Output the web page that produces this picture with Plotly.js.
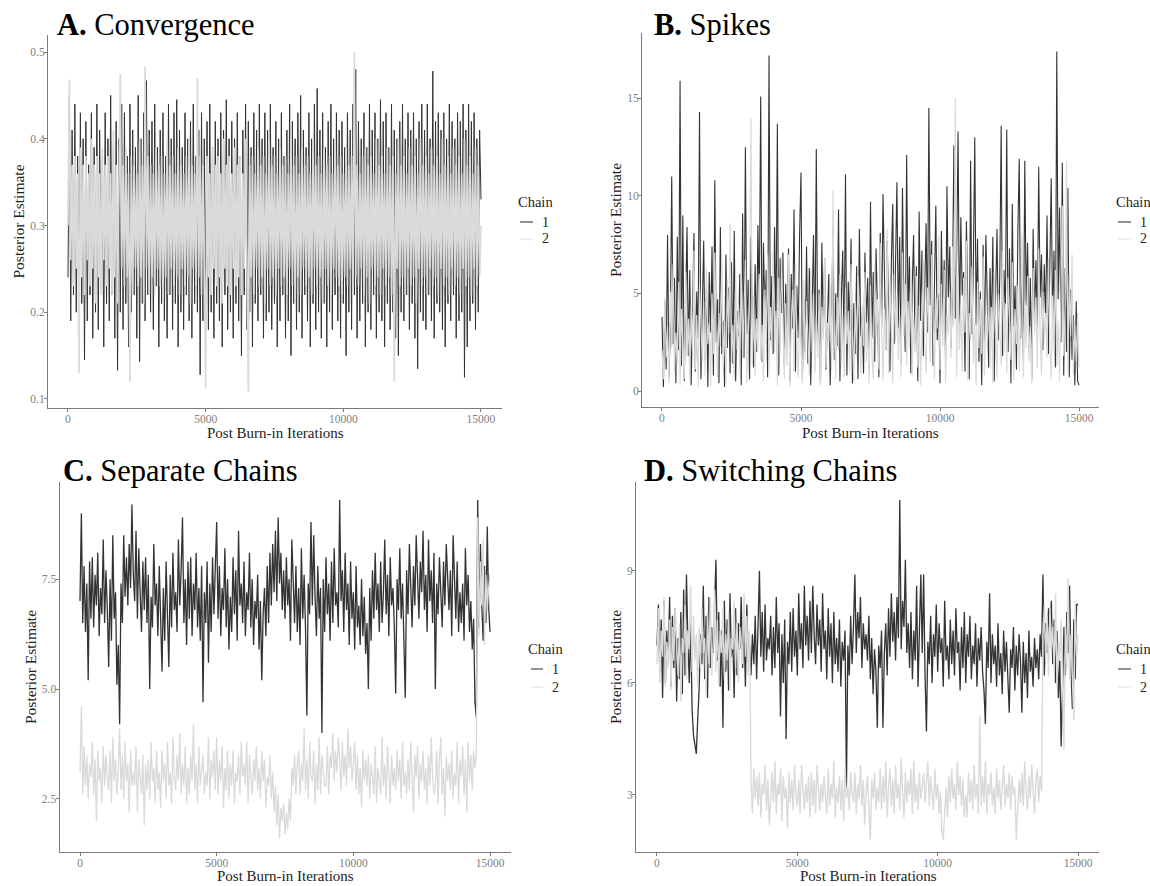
<!DOCTYPE html>
<html><head><meta charset="utf-8">
<script src="https://cdn.plot.ly/plotly-3.0.1.min.js"></script>
<style>html,body{margin:0;padding:0;background:#fff}#chart{width:1150px;height:886px}</style>
</head><body><div id="chart"></div>
<script>
// ---------- data (one value every iterStep iterations) ----------
const iterStep = 50;
const chainNames = ['1', '2'];
const legendTitle = 'Chain';
const xAxisTitle = 'Post Burn-in Iterations';
const yAxisTitle = 'Posterior Estimate';
const panelLetters = ['A.', 'B.', 'C.', 'D.'];
const panelNames = ['Convergence', 'Spikes', 'Separate Chains', 'Switching Chains'];
const xTickVals = [0, 5000, 10000, 15000];
const yTickValsA = [0.1, 0.2, 0.3, 0.4, 0.5];
const yTickValsB = [0, 5, 10, 15];
const yTickValsC = [2.5, 5.0, 7.5];
const yTickValsD = [3, 6, 9];

const convergenceChain1 = [
 0.24,0.45,0.19,0.41,0.22,0.44,0.20,0.38,0.18,0.43,
 0.21,0.40,0.145,0.42,0.19,0.37,0.22,0.43,0.17,0.39,
 0.20,0.44,0.18,0.41,0.23,0.38,0.16,0.43,0.21,0.40,
 0.19,0.45,0.22,0.39,0.17,0.42,0.133,0.40,0.20,0.44,
 0.18,0.43,0.21,0.38,0.16,0.44,0.20,0.41,0.22,0.39,
 0.17,0.45,0.143,0.40,0.21,0.43,0.19,0.467,0.22,0.41,
 0.20,0.42,0.18,0.44,0.23,0.39,0.16,0.41,0.21,0.43,
 0.19,0.38,0.17,0.44,0.22,0.40,0.18,0.43,0.21,0.445,
 0.16,0.41,0.20,0.39,0.18,0.43,0.22,0.40,0.19,0.42,
 0.17,0.44,0.21,0.38,0.20,0.41,0.128,0.43,0.19,0.40,
 0.22,0.42,0.18,0.44,0.20,0.39,0.17,0.42,0.21,0.40,
 0.19,0.43,0.16,0.41,0.22,0.445,0.18,0.40,0.20,0.42,
 0.17,0.40,0.21,0.43,0.19,0.38,0.15,0.41,0.22,0.44,
 0.18,0.42,0.20,0.39,0.16,0.43,0.21,0.41,0.19,0.44,
 0.22,0.40,0.17,0.43,0.19,0.41,0.20,0.44,0.18,0.39,
 0.21,0.42,0.16,0.40,0.19,0.43,0.22,0.38,0.17,0.41,
 0.19,0.44,0.15,0.42,0.21,0.40,0.18,0.43,0.20,0.45,
 0.17,0.41,0.22,0.39,0.19,0.43,0.16,0.40,0.21,0.44,
 0.18,0.458,0.20,0.41,0.17,0.43,0.21,0.39,0.16,0.42,
 0.20,0.44,0.18,0.40,0.22,0.43,0.19,0.41,0.17,0.42,
 0.21,0.39,0.15,0.43,0.20,0.41,0.18,0.44,0.22,0.48,
 0.17,0.42,0.19,0.40,0.21,0.43,0.16,0.39,0.20,0.44,
 0.18,0.41,0.22,0.43,0.17,0.40,0.20,0.445,0.19,0.42,
 0.16,0.43,0.21,0.39,0.18,0.44,0.20,0.41,0.17,0.40,
 0.15,0.42,0.20,0.44,0.19,0.40,0.22,0.43,0.18,0.41,
 0.21,0.43,0.17,0.40,0.135,0.42,0.20,0.44,0.19,0.41,
 0.18,0.44,0.22,0.40,0.19,0.478,0.17,0.42,0.21,0.43,
 0.20,0.41,0.18,0.43,0.16,0.40,0.21,0.44,0.19,0.42,
 0.22,0.40,0.17,0.43,0.19,0.42,0.20,0.44,0.125,0.41,
 0.16,0.44,0.19,0.42,0.21,0.43,0.18,0.40,0.20,0.41,
 0.33];
const convergenceChain2 = [
 0.30,0.468,0.26,0.37,0.23,0.38,0.25,0.36,0.13,0.39,
 0.24,0.37,0.22,0.38,0.26,0.36,0.23,0.40,0.25,0.37,
 0.21,0.38,0.24,0.36,0.22,0.39,0.26,0.37,0.23,0.38,
 0.25,0.36,0.22,0.41,0.24,0.37,0.21,0.38,0.475,0.25,
 0.37,0.23,0.39,0.24,0.36,0.12,0.38,0.22,0.37,0.25,
 0.36,0.23,0.40,0.24,0.37,0.21,0.483,0.25,0.38,0.22,
 0.37,0.24,0.36,0.22,0.39,0.25,0.37,0.23,0.38,0.21,
 0.36,0.24,0.40,0.22,0.37,0.25,0.38,0.23,0.36,0.24,
 0.39,0.22,0.37,0.25,0.36,0.23,0.38,0.24,0.40,0.21,
 0.37,0.25,0.36,0.23,0.47,0.24,0.38,0.22,0.37,0.25,
 0.113,0.38,0.24,0.36,0.22,0.39,0.25,0.37,0.23,0.38,
 0.24,0.36,0.21,0.40,0.25,0.37,0.23,0.38,0.22,0.36,
 0.25,0.39,0.23,0.37,0.24,0.38,0.22,0.36,0.25,0.40,
 0.23,0.108,0.37,0.24,0.38,0.22,0.36,0.25,0.39,0.23,
 0.37,0.24,0.38,0.21,0.36,0.25,0.40,0.23,0.37,0.24,
 0.38,0.22,0.36,0.25,0.39,0.23,0.37,0.24,0.38,0.22,
 0.36,0.25,0.40,0.23,0.37,0.21,0.38,0.24,0.36,0.22,
 0.39,0.25,0.37,0.23,0.38,0.24,0.36,0.22,0.40,0.25,
 0.37,0.23,0.38,0.24,0.36,0.21,0.39,0.25,0.37,0.23,
 0.38,0.22,0.36,0.25,0.40,0.24,0.37,0.23,0.38,0.22,
 0.36,0.24,0.39,0.23,0.37,0.25,0.38,0.22,0.50,0.24,
 0.37,0.23,0.36,0.25,0.38,0.22,0.39,0.24,0.37,0.21,
 0.38,0.25,0.36,0.23,0.40,0.24,0.37,0.22,0.38,0.25,
 0.36,0.23,0.39,0.24,0.37,0.22,0.38,0.12,0.36,0.25,
 0.40,0.23,0.37,0.24,0.38,0.22,0.36,0.25,0.39,0.23,
 0.37,0.24,0.38,0.21,0.36,0.25,0.40,0.23,0.37,0.24,
 0.38,0.22,0.36,0.25,0.39,0.23,0.37,0.24,0.38,0.22,
 0.36,0.25,0.40,0.23,0.37,0.24,0.38,0.22,0.36,0.25,
 0.39,0.23,0.37,0.24,0.38,0.22,0.36,0.25,0.40,0.23,
 0.37,0.24,0.38,0.22,0.36,0.25,0.39,0.23,0.37,0.24,
 0.30];

const spikesChain1 = [
 3.8,0.2,4.6,1.1,8.0,0.7,3.2,11.0,2.4,5.8,
 0.4,7.9,2.1,15.9,1.3,9.0,0.5,4.4,8.4,1.8,
 6.2,0.3,3.5,8.1,1.0,5.1,2.7,14.3,0.6,4.9,
 7.7,1.6,5.4,0.2,6.1,3.0,7.4,0.8,10.8,2.5,
 4.7,0.4,8.4,1.9,3.6,0.2,7.0,2.2,5.3,0.9,
 6.6,1.4,8.2,0.5,4.1,2.8,6.0,0.3,9.1,1.7,
 12.5,2.9,5.7,0.6,7.9,3.4,1.2,6.5,2.0,8.5,
 4.3,15.1,1.5,7.6,3.8,6.2,0.7,17.2,2.6,5.9,
 1.9,8.4,3.1,13.7,0.8,6.8,4.0,7.1,1.3,5.5,
 2.4,7.3,0.5,6.0,3.2,9.3,1.0,5.4,2.7,8.1,
 11.2,0.6,4.8,2.0,7.4,1.4,6.3,0.3,3.9,8.0,
 1.7,12.4,2.5,5.2,0.4,7.6,3.0,6.8,1.1,4.2,
 6.0,0.3,3.4,8.4,1.6,5.0,2.3,9.3,0.5,4.7,
 7.2,2.0,11.1,0.8,5.6,3.1,7.8,0.4,4.5,1.9,
 6.4,0.6,8.3,2.8,4.0,0.9,7.1,3.5,5.8,1.2,
 9.7,2.7,6.1,1.5,7.3,4.2,0.7,8.1,3.3,10.1,
 5.0,2.1,7.7,3.9,1.0,6.6,9.6,2.4,5.7,10.7,
 3.2,7.9,1.4,10.4,4.6,2.0,12.1,3.8,6.9,0.9,
 5.3,8.0,2.5,6.4,0.5,9.2,3.6,7.2,1.8,5.9,
 8.6,3.0,14.5,4.4,7.7,1.3,6.2,9.5,2.6,5.0,
 0.4,8.2,3.5,6.7,1.6,10.5,4.8,7.4,2.2,5.6,
 12.6,3.7,7.0,13.3,2.8,8.9,4.9,6.1,1.0,8.7,
 4.3,0.6,11.8,2.9,6.5,13.0,3.4,7.8,1.5,5.1,
 0.3,7.5,2.4,8.0,4.6,1.2,6.3,3.0,7.9,0.5,
 4.9,8.3,2.6,5.9,13.6,1.8,6.2,3.9,13.4,2.0,
 7.3,0.4,9.6,3.3,5.4,1.1,8.2,11.9,2.7,6.0,
 1.5,11.8,4.4,7.6,2.2,5.8,0.6,8.3,3.6,6.7,
 2.9,11.5,4.8,7.0,2.1,6.5,3.7,9.0,1.9,5.6,
 10.9,3.4,7.2,1.2,17.4,4.7,9.4,2.5,11.7,0.8,
 6.3,2.0,10.4,0.7,5.2,1.6,3.9,0.3,4.6,0.5,
 0.3];
const spikesChain2 = [
 2.1,0.6,4.8,1.7,3.3,0.4,5.1,2.2,6.5,0.9,
 3.0,1.4,5.6,0.3,4.2,2.5,0.6,6.1,1.8,3.7,
 0.5,4.4,2.0,7.2,1.1,3.9,0.2,5.5,2.8,1.5,
 4.6,0.8,6.3,2.4,3.5,0.3,5.0,1.9,7.1,2.6,
 0.7,4.0,2.3,6.8,1.2,3.6,0.4,5.7,2.9,8.6,
 1.5,3.4,0.6,5.9,2.1,4.5,0.9,6.6,1.7,3.8,
 6.7,0.4,2.8,5.3,14.0,1.3,4.9,0.8,3.7,2.0,
 6.0,1.6,3.4,0.5,5.2,2.6,7.0,1.0,4.3,2.2,
 7.2,2.0,4.1,0.3,5.8,1.9,6.9,2.7,0.6,4.5,
 1.3,7.0,0.2,3.6,5.2,1.0,6.6,2.4,0.7,4.0,
 2.2,0.4,5.7,1.6,4.6,3.1,0.8,6.2,2.0,5.0,
 0.9,3.8,1.7,5.0,0.3,4.3,2.6,6.8,1.2,3.5,
 2.5,5.4,1.1,10.3,3.0,0.6,4.8,2.1,6.0,1.4,
 3.9,0.7,5.3,2.4,4.1,1.0,6.5,2.8,0.5,4.6,
 1.8,5.9,3.2,0.9,4.4,2.3,6.1,1.5,3.6,0.4,
 5.4,1.9,0.6,6.4,2.8,4.7,1.1,7.6,3.0,0.5,
 4.2,2.1,8.3,0.9,5.6,3.3,0.4,6.0,2.5,4.9,
 1.6,3.9,0.7,7.1,2.8,5.5,1.3,4.6,2.2,6.3,
 0.8,3.7,2.0,5.9,1.2,4.4,0.3,3.1,6.7,2.4,
 0.9,5.3,3.6,1.5,7.0,2.7,0.6,4.8,3.2,8.0,
 1.1,5.5,2.3,6.2,0.4,3.9,2.9,5.1,1.7,7.4,
 3.3,15.0,0.7,6.0,2.1,4.4,1.0,5.8,3.0,7.7,
 0.5,4.0,2.6,6.4,1.4,3.5,0.3,5.6,2.2,4.7,
 1.9,6.9,0.8,3.8,2.5,5.2,1.1,4.3,0.4,6.1,
 2.7,0.6,5.0,3.4,1.3,7.2,2.0,4.5,0.9,5.8,
 3.1,1.6,6.6,0.5,4.2,2.4,5.4,1.0,3.7,8.1,
 0.7,4.6,2.2,5.9,1.5,3.3,0.4,6.3,2.9,4.8,
 1.2,7.3,3.0,0.8,5.1,2.6,4.0,1.7,6.8,2.3,
 0.6,4.9,2.0,6.2,1.3,3.6,0.5,5.5,9.5,1.8,
 4.4,11.8,1.0,6.0,2.8,7.0,0.9,3.4,1.5,4.0,
 1.2];

const separateChain1 = [
 7.0,9.0,6.5,7.8,6.3,7.4,5.2,7.9,6.6,8.0,
 6.4,7.6,6.9,8.1,6.2,7.3,6.7,8.4,6.5,7.7,
 6.8,5.5,7.5,6.1,8.5,6.6,7.2,5.1,6.0,4.2,
 7.4,6.5,8.5,7.1,8.0,6.9,8.3,7.3,9.2,7.6,
 7.0,8.6,6.6,8.2,7.2,6.3,7.9,6.8,8.0,6.5,
 7.6,5.0,7.1,6.4,8.3,6.9,7.4,6.2,7.8,6.6,
 5.4,7.3,6.1,7.9,6.7,5.5,7.6,6.4,8.1,6.8,
 7.2,6.3,8.4,6.9,7.7,8.9,6.5,7.5,6.0,7.9,
 6.6,8.0,6.2,7.4,6.8,8.1,6.4,7.3,6.1,7.8,
 4.7,7.2,6.5,7.9,5.6,7.4,6.3,8.0,6.7,7.6,
 8.8,6.6,7.8,6.2,7.3,6.8,8.2,6.4,7.5,5.9,
 7.1,6.3,8.0,6.7,7.7,6.1,8.6,6.9,7.4,6.5,
 7.9,6.2,7.2,6.8,8.1,6.4,7.5,6.0,7.0,6.6,
 7.6,5.9,7.0,5.2,6.7,7.3,6.2,7.8,6.5,8.1,
 6.9,8.3,7.2,8.6,7.0,8.9,7.4,8.1,6.8,7.7,
 6.6,8.0,6.9,7.5,6.1,8.4,7.1,6.5,7.8,6.3,
 7.3,6.0,8.2,6.6,7.6,6.4,4.4,7.4,6.7,8.8,
 6.9,8.5,7.1,6.2,7.8,6.6,7.3,4.0,7.5,6.3,
 8.0,6.7,7.4,6.1,7.9,6.5,8.2,6.9,7.2,6.4,
 9.3,7.0,7.7,6.3,8.1,6.8,7.4,6.0,7.9,6.6,
 7.2,5.9,7.8,6.4,6.9,6.0,7.5,6.2,7.1,5.8,
 6.5,5.0,7.3,6.1,7.7,6.6,8.1,6.8,7.4,6.3,
 7.9,6.5,7.2,8.4,6.7,7.6,6.2,8.0,6.9,7.3,
 6.4,4.9,7.5,6.8,8.2,6.6,7.4,6.1,4.8,7.7,
 6.7,8.3,7.1,6.4,7.8,6.9,8.5,7.3,6.6,7.9,
 7.2,8.6,6.8,7.6,6.3,8.4,7.0,7.7,6.5,8.1,
 5.0,7.4,6.7,8.0,7.1,6.4,7.9,6.9,8.3,7.5,
 6.8,7.7,6.2,8.5,7.3,6.6,7.9,6.3,7.2,6.5,
 7.4,6.1,8.2,6.9,7.6,6.3,7.0,5.9,6.6,4.7,
 4.35,9.3,6.4,8.3,6.9,6.1,7.8,6.5,8.7,6.9,
 6.3];
const separateChain2 = [
 3.1,4.6,2.6,3.7,2.8,3.5,2.5,3.3,3.0,3.8,
 2.6,3.4,2.0,3.6,2.9,3.2,2.4,3.7,2.8,3.5,
 3.0,2.7,3.6,2.4,3.9,2.9,3.4,2.6,3.2,4.1,
 2.7,3.5,2.5,3.8,2.9,3.3,2.2,3.6,2.8,3.1,
 2.8,3.7,2.2,3.4,3.0,2.6,3.5,1.9,3.3,2.7,
 3.4,2.5,3.8,2.9,3.2,2.4,3.6,2.7,3.1,2.3,
 3.6,2.9,3.3,2.5,3.8,2.8,3.1,2.4,3.9,3.0,
 2.7,3.5,2.9,4.0,2.6,3.3,2.8,3.7,2.4,3.2,
 2.6,3.5,2.9,4.2,2.7,3.3,2.4,3.7,2.8,3.2,
 3.5,2.6,3.1,2.8,3.9,2.5,3.4,3.0,3.6,2.7,
 3.9,2.6,3.4,2.9,3.7,2.3,3.2,2.7,3.6,2.5,
 3.3,2.8,3.6,2.4,3.1,2.9,3.5,2.6,3.8,3.0,
 3.3,2.8,3.8,2.4,3.5,3.0,2.6,3.4,2.9,3.7,
 2.7,3.2,2.5,3.6,2.9,3.4,2.3,3.0,2.8,3.5,
 2.5,3.1,2.2,2.8,1.9,2.6,1.6,2.3,2.0,2.4,
 1.7,2.2,1.8,2.5,2.0,3.2,2.8,3.5,2.6,3.3,
 3.6,2.6,3.3,2.9,4.1,2.7,3.4,2.5,3.8,3.0,
 2.9,3.6,2.4,3.3,2.7,3.9,2.6,3.5,3.1,2.8,
 2.8,3.7,2.6,3.5,3.2,4.0,2.9,3.6,3.1,3.9,
 3.4,2.7,3.8,3.0,3.5,2.8,4.1,3.2,3.7,2.9,
 3.3,3.8,2.7,3.5,2.6,3.2,2.3,3.6,2.9,3.4,
 2.8,3.5,2.5,3.3,3.0,2.6,3.7,2.4,3.2,2.9,
 2.6,3.9,2.8,3.3,2.5,3.7,3.0,2.4,3.5,2.8,
 3.2,2.7,3.6,2.9,3.4,2.5,3.8,2.8,3.1,2.6,
 3.4,2.7,3.8,2.9,2.2,3.5,3.0,3.7,2.5,3.3,
 2.9,3.6,2.7,3.2,2.4,3.5,2.8,3.9,3.0,2.6,
 2.8,3.6,2.4,3.4,3.9,2.6,3.2,2.1,3.5,2.9,
 3.3,2.7,3.6,2.5,3.1,2.8,3.8,2.4,3.4,3.0,
 3.7,2.6,3.4,2.2,3.8,2.9,3.5,2.7,3.6,3.2,
 3.5,8.9,6.2,7.9,6.9,8.4,6.0,7.6,6.8,7.3,
 7.6];

const switchingChain1 = [
 7.0,8.1,6.3,7.7,5.6,8.2,6.0,7.4,6.6,8.3,
 5.9,7.8,6.4,8.0,5.5,7.2,6.1,7.9,5.7,8.5,
 6.2,8.9,7.1,6.0,7.6,5.3,4.6,4.3,4.1,5.0,
 5.8,7.3,6.5,8.6,6.1,7.8,5.6,8.3,6.4,7.5,
 6.8,8.0,9.3,6.6,7.9,5.9,7.4,4.8,8.2,6.3,
 7.7,5.8,8.4,6.7,7.2,5.6,8.0,6.2,7.6,6.9,
 8.3,6.4,7.5,5.9,8.1,6.6,7.0,6.2,7.3,6.5,
 7.8,6.1,7.4,9.0,6.7,7.9,6.3,8.1,6.6,7.2,
 6.9,7.8,6.2,7.5,6.4,8.3,6.8,7.6,5.1,7.3,
 6.0,7.7,4.5,7.1,6.5,7.9,6.3,8.0,6.7,7.4,
 6.2,8.4,6.9,7.6,6.4,8.6,7.0,7.8,6.6,8.2,
 6.8,8.6,7.3,6.5,8.1,7.0,7.7,6.3,8.4,6.9,
 7.4,6.1,8.0,6.7,7.6,6.0,7.9,6.5,7.2,6.3,
 7.7,5.9,7.1,6.6,7.4,3.2,7.0,6.2,7.8,6.5,
 7.5,8.9,6.8,7.9,7.2,8.3,6.4,7.6,6.9,7.3,
 6.6,7.8,6.1,7.2,5.7,6.9,6.3,4.8,7.0,6.4,
 7.4,4.8,6.8,7.6,6.2,8.0,6.7,8.4,7.1,7.9,
 6.6,8.3,7.2,10.9,6.9,8.2,7.5,9.3,6.8,7.6,
 6.4,7.9,6.1,7.4,6.6,8.6,5.9,7.5,8.9,6.8,
 8.9,6.2,4.7,7.1,6.5,7.8,6.0,7.3,6.7,8.1,
 6.3,7.6,6.8,7.2,5.9,8.2,6.6,7.0,6.1,7.7,
 6.5,7.4,6.2,8.0,6.8,7.1,5.8,7.5,6.4,7.9,
 6.0,7.3,6.7,7.8,6.1,7.0,6.5,7.6,5.9,7.2,
 6.6,7.5,6.3,5.8,4.9,7.1,6.4,8.4,6.0,7.3,
 6.5,7.0,5.9,7.6,6.2,6.8,5.7,7.4,6.3,7.1,
 6.0,5.2,6.9,6.4,7.5,5.8,7.0,6.2,7.3,6.6,
 5.2,7.1,6.0,6.8,5.6,7.4,6.3,6.7,5.9,7.2,
 6.4,6.9,6.1,7.3,6.7,8.9,6.2,7.6,6.8,8.0,
 7.2,8.2,6.5,7.7,6.0,7.4,5.6,6.6,4.3,6.1,
 7.5,6.2,7.9,6.8,8.6,6.4,5.3,7.7,6.1,8.1,
 8.1];
const switchingChain2 = [
 6.5,8.0,6.0,7.4,6.7,8.3,5.9,7.1,6.4,7.7,
 5.8,7.5,6.6,8.0,7.0,6.2,7.6,5.5,7.2,6.8,
 8.1,6.1,7.4,6.9,8.6,6.3,7.8,6.6,7.3,5.9,
 7.5,6.4,8.0,6.8,7.2,5.7,7.9,6.5,8.3,6.2,
 7.0,8.5,6.3,7.7,6.0,7.4,6.8,8.0,6.1,7.3,
 6.6,7.9,5.8,7.2,6.9,8.2,6.4,7.6,6.0,7.5,
 7.1,6.5,8.4,6.7,7.8,6.2,7.4,3.4,2.5,3.7,
 2.9,3.5,2.7,3.6,2.4,3.3,3.0,3.8,2.6,3.4,
 2.2,3.1,3.6,2.8,3.9,2.5,3.3,3.0,3.7,2.3,
 3.5,2.9,3.2,2.1,3.6,2.8,3.4,2.6,3.8,3.0,
 2.7,3.4,2.5,3.8,3.0,2.6,3.3,2.8,3.5,2.4,
 3.6,2.7,3.4,2.5,3.8,3.0,2.6,3.3,2.8,3.5,
 3.1,2.5,3.7,2.7,3.3,2.9,3.9,2.4,3.2,2.8,
 3.5,2.6,3.4,2.3,3.7,2.9,3.2,2.6,3.6,3.0,
 2.8,3.6,2.5,3.3,2.9,3.8,2.7,3.4,2.2,3.1,
 3.5,2.4,1.8,3.4,2.9,3.6,2.6,3.2,2.8,3.7,
 2.6,3.5,2.8,3.9,2.4,3.2,3.7,2.7,3.4,2.5,
 3.8,2.9,3.3,2.6,4.0,3.1,2.4,3.6,2.8,3.4,
 3.0,3.7,2.5,3.9,2.8,3.3,2.6,3.6,2.9,3.2,
 3.6,2.8,3.4,3.9,2.7,3.5,3.0,2.6,3.7,2.9,
 3.3,2.5,3.1,2.0,1.8,2.6,3.2,2.4,3.5,2.8,
 3.7,2.9,3.3,2.6,3.9,3.0,3.5,2.7,3.4,2.4,
 3.0,2.4,3.6,2.8,3.4,2.6,3.8,2.9,3.3,2.5,
 5.1,2.7,3.5,2.8,3.9,2.5,3.3,3.0,3.6,2.7,
 3.2,2.5,3.7,2.9,3.4,2.6,3.1,3.8,2.7,3.3,
 2.9,3.6,2.6,3.5,3.0,3.2,1.8,2.7,3.4,2.8,
 3.6,2.7,3.9,3.1,2.6,3.5,2.9,3.8,3.2,2.5,
 3.4,3.7,2.8,3.5,3.1,7.2,8.1,6.6,7.8,6.2,
 8.0,6.9,7.5,6.3,8.4,5.9,7.1,6.6,7.7,6.0,
 4.2,7.5,6.4,8.8,6.1,7.3,5.8,5.0,8.2,6.7,
 7.3];

// ---------- drawing ----------
const W = 1150, H = 886;
const FONT = 'Liberation Serif, Times New Roman, serif';
const chainColors = ['#333333', '#dadada'];
const legendColors = ['#4a4a4a', '#e4e4e4'];
const panelLineWidths = [[1.0, 1.7], [1.1, 1.2], [1.3, 1.3], [1.3, 1.4]];
const iters = arr => arr.map((_, i) => i * iterStep);

const panels = [
  [convergenceChain1, convergenceChain2],
  [spikesChain1, spikesChain2],
  [separateChain1, separateChain2],
  [switchingChain1, switchingChain2]
];

const traces = [];
panels.forEach((series, p) => {
  const s = p === 0 ? '' : String(p + 1);
  series.forEach((vals, k) => {
    traces.push({
      type: 'scatter', mode: 'lines',
      x: iters(vals), y: vals,
      xaxis: 'x' + s, yaxis: 'y' + s,
      name: chainNames[k], showlegend: false,
      line: {color: chainColors[k], width: panelLineWidths[p][k]},
      hoverinfo: 'skip'
    });
  });
});

// pixel boxes of the four plotting areas: [left, right, top, bottom]
const boxes = [[48, 502, 35, 408], [642, 1099, 33, 407], [59.5, 510.5, 482, 852], [636, 1099, 482, 852]];
const xRanges = [[-726, 15763], [-719, 15719], [-750, 15750], [-748, 15748]];
const yRanges = [[0.0896, 0.5196], [-0.82, 18.35], [1.292, 9.71], [1.473, 11.38]];
const yTicks = [yTickValsA, yTickValsB, yTickValsC, yTickValsD];
const yFormats = ['.1f', 'd', '.1f', 'd'];

const axisCommon = {
  showgrid: false, zeroline: false, showline: true, linecolor: '#7a7a7a', linewidth: 1,
  ticks: 'outside', ticklen: 3, tickcolor: '#7a7a7a', tickwidth: 1, ticklabelstandoff: -3,
  tickfont: {family: FONT, size: 11.5, color: '#808080'}, fixedrange: true
};

const layout = {
  width: W, height: H, margin: {l: 0, r: 0, t: 0, b: 0},
  paper_bgcolor: '#ffffff', plot_bgcolor: 'rgba(0,0,0,0)',
  font: {family: FONT, color: '#222'},
  annotations: [], shapes: [], showlegend: false
};

const titlePos = [[55, 25], [652, 25], [61, 471], [642, 471]];
const xTitlePos = [[275, 433], [870, 433], [285, 876], [868, 876]];
// legend: [title left, title y, key x0, key x1, item1 y, item2 y, label left]
const legendPos = [
  [518, 202, 520, 533, 222, 239, 542],
  [1116, 202, 1118, 1131, 222, 239, 1140],
  [528, 649, 531, 543, 669, 687, 552],
  [1116, 649, 1118, 1131, 669, 687, 1140]
];
const px = v => v / W, py = v => 1 - v / H;

boxes.forEach((b, i) => {
  const s = i === 0 ? '' : String(i + 1);
  layout['xaxis' + s] = Object.assign({}, axisCommon, {
    domain: [px(b[0]), px(b[1])], range: xRanges[i], anchor: 'y' + s,
    tickvals: xTickVals, tickformat: 'd'
  });
  layout['yaxis' + s] = Object.assign({}, axisCommon, {
    domain: [py(b[3]), py(b[2])], range: yRanges[i], anchor: 'x' + s,
    tickvals: yTicks[i], tickformat: yFormats[i],
    title: {text: yAxisTitle, font: {family: FONT, size: 15.5, color: '#222'}, standoff: 1}
  });
  // panel title
  layout.annotations.push({
    xref: 'paper', yref: 'paper', x: px(titlePos[i][0]), y: py(titlePos[i][1]),
    xanchor: 'left', yanchor: 'middle', showarrow: false,
    text: '<b>' + panelLetters[i] + '</b> ' + panelNames[i],
    font: {family: FONT, size: 30.5, color: '#000'}
  });
  // x axis title
  layout.annotations.push({
    xref: 'paper', yref: 'paper', x: px(xTitlePos[i][0]), y: py(xTitlePos[i][1]),
    xanchor: 'center', yanchor: 'middle', showarrow: false, borderpad: 0,
    text: xAxisTitle, font: {family: FONT, size: 15, color: '#222'}
  });
  // legend
  const L = legendPos[i];
  layout.annotations.push({
    xref: 'paper', yref: 'paper', x: px(L[0] - 2), y: py(L[1]),
    xanchor: 'left', yanchor: 'middle', showarrow: false,
    text: legendTitle, font: {family: FONT, size: 14.5, color: '#222'}
  });
  [L[4], L[5]].forEach((yy, k) => {
    layout.shapes.push({
      type: 'line', xref: 'paper', yref: 'paper',
      x0: px(L[2]), x1: px(L[3]), y0: py(yy), y1: py(yy),
      line: {color: legendColors[k], width: 1.2}
    });
    layout.annotations.push({
      xref: 'paper', yref: 'paper', x: px(L[6] - 2), y: py(yy),
      xanchor: 'left', yanchor: 'middle', showarrow: false,
      text: chainNames[k], font: {family: FONT, size: 14, color: '#222'}
    });
  });
});

Plotly.newPlot('chart', traces, layout, {staticPlot: true, displayModeBar: false});
</script>
</body></html>
